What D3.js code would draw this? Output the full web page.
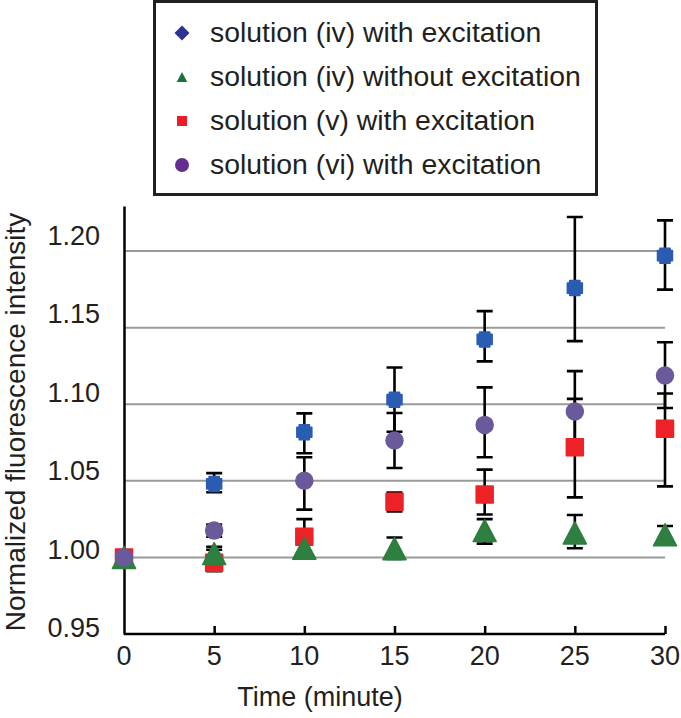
<!DOCTYPE html>
<html>
<head>
<meta charset="utf-8">
<script src="https://cdn.jsdelivr.net/npm/d3@7"></script>
<style>
  html, body { margin: 0; padding: 0; background: #fff; }
  svg { display: block; }
  text { font-family: "Liberation Sans", Arial, Helvetica, sans-serif; fill: #231f20; }
</style>
</head>
<body>
<svg id="chart" width="681" height="718"></svg>
<script>
// ---- data ----
const times = [0, 5, 10, 15, 20, 25, 30];
const seriesNames = [
  "solution (iv) with excitation",
  "solution (iv) without excitation",
  "solution (v) with excitation",
  "solution (vi) with excitation"
];
// solution (iv) with excitation
const ivWith      = [1.000, 1.048, 1.0817, 1.103, 1.1423, 1.1758, 1.197];
const ivWithPlus  = [0, 0.007, 0.0123, 0.021, 0.0185, 0.0464, 0.023];
const ivWithMinus = [0, 0.0055, 0.0137, 0.021, 0.0143, 0.0346, 0.0222];
// solution (iv) without excitation
const ivWithout      = [1.000, 1.0025, 1.006, 1.0057, 1.0175, 1.016, 1.0148];
const ivWithoutPlus  = [0, 0.0045, 0.004, 0.0073, 0.0075, 0.0117, 0.0057];
const ivWithoutMinus = [0, 0.0045, 0.004, 0.0067, 0.0085, 0.010, 0.0058];
// solution (v) with excitation
const vWith      = [1.000, 0.9965, 1.0135, 1.0363, 1.041, 1.0719, 1.084];
const vWithPlus  = [0, 0.0085, 0.0115, 0.006, 0.0163, 0.0316, 0.023];
const vWithMinus = [0, 0.0055, 0.0115, 0.0063, 0.013, 0.0327, 0.0376];
// solution (vi) with excitation
const viWith      = [1.000, 1.0175, 1.050, 1.0763, 1.0865, 1.0952, 1.1188];
const viWithPlus  = [0, 0.004, 0.0154, 0.018, 0.0245, 0.0264, 0.0217];
const viWithMinus = [0, 0.004, 0.0188, 0.0179, 0.0211, 0.026, 0.0213];

const xTicks = [0, 5, 10, 15, 20, 25, 30];
const yTicks = [0.95, 1.00, 1.05, 1.10, 1.15, 1.20];
const gridValues = [1.00, 1.05, 1.10, 1.15, 1.20];
const xTitle = "Time (minute)";
const yTitle = "Normalized fluorescence intensity";

// ---- layout ----
const svg = d3.select("#chart");
const x = d3.scaleLinear().domain([0, 30]).range([124, 665]);
const y = d3.scaleLinear().domain([0.95, 1.2294]).range([634, 206]);
const yLabel = d3.scaleLinear().domain([0.95, 1.20]).range([637, 245]);

// gridlines
svg.append("g").selectAll("line").data(gridValues).join("line")
  .attr("x1", x(0)).attr("x2", x(30))
  .attr("y1", d => y(d)).attr("y2", d => y(d))
  .attr("stroke", "#9a9a9a").attr("stroke-width", 2);

// axes
const xAxis = d3.axisBottom(x).tickValues(xTicks.slice(1)).tickSize(-8).tickFormat("");
const gx = svg.append("g").attr("transform", `translate(0,${y(0.95)})`).call(xAxis);
gx.select(".domain").attr("stroke", "#000").attr("stroke-width", 2.5).attr("d", `M${x(0)},0H${x(30)}`);
gx.selectAll(".tick line").attr("stroke", "#000").attr("stroke-width", 2.5);

const yAxis = d3.axisLeft(y).tickValues([]).tickSize(0);
const gy = svg.append("g").attr("transform", `translate(${x(0)},0)`).call(yAxis);
gy.select(".domain").attr("stroke", "#000").attr("stroke-width", 2.5);

// tick labels
svg.append("g").selectAll("text").data(xTicks).join("text")
  .attr("x", d => x(d)).attr("y", 665)
  .attr("text-anchor", "middle").attr("font-size", 27)
  .text(d => d);
svg.append("g").selectAll("text").data(yTicks).join("text")
  .attr("x", 100).attr("y", d => yLabel(d))
  .attr("text-anchor", "end").attr("font-size", 27)
  .text(d => d.toFixed(2));

// axis titles
svg.append("text").attr("x", 320).attr("y", 706)
  .attr("text-anchor", "middle").attr("font-size", 27).text(xTitle);
svg.append("text").attr("transform", "translate(25,422) rotate(-90)")
  .attr("text-anchor", "middle").attr("font-size", 28).text(yTitle);

// ---- series ----
const crossBlob = {
  draw(ctx, size) {
    const a = Math.sqrt(size) / 2;   // half extent
    const b = a * 0.68;              // half arm width
    ctx.moveTo(-b, -a); ctx.lineTo(b, -a); ctx.lineTo(b, -b); ctx.lineTo(a, -b);
    ctx.lineTo(a, b); ctx.lineTo(b, b); ctx.lineTo(b, a); ctx.lineTo(-b, a);
    ctx.lineTo(-b, b); ctx.lineTo(-a, b); ctx.lineTo(-a, -b); ctx.lineTo(-b, -b);
    ctx.closePath();
  }
};
const triBox = {
  draw(ctx, size) {
    const h = Math.sqrt(size) / 2;
    ctx.moveTo(0, -h); ctx.lineTo(h * 1.05, h); ctx.lineTo(-h * 1.05, h); ctx.closePath();
  }
};
const squareSym = {
  draw(ctx, size) {
    const h = Math.sqrt(size) / 2;
    ctx.rect(-h, -h, 2 * h, 2 * h);
  }
};
const diamondSym = {
  draw(ctx, size) {
    const h = Math.sqrt(size) / 2;
    ctx.moveTo(0, -h); ctx.lineTo(h, 0); ctx.lineTo(0, h); ctx.lineTo(-h, 0); ctx.closePath();
  }
};

const series = [
  { name: seriesNames[0], vals: ivWith, plus: ivWithPlus, minus: ivWithMinus,
    sym: crossBlob, size: 15 * 15, color: "#2a5cb3", legSym: diamondSym, legSize: 15 * 15, legColor: "#2e3192", order: 0 },
  { name: seriesNames[1], vals: ivWithout, plus: ivWithoutPlus, minus: ivWithoutMinus,
    sym: triBox, size: 22 * 22, color: "#2d7f3f", legSym: triBox, legSize: 10 * 10, legColor: "#1b7139", order: 2 },
  { name: seriesNames[2], vals: vWith, plus: vWithPlus, minus: vWithMinus,
    sym: squareSym, size: 17 * 17, color: "#ec2227", legSym: squareSym, legSize: 10 * 10, legColor: "#ec1c24", order: 1 },
  { name: seriesNames[3], vals: viWith, plus: viWithPlus, minus: viWithMinus,
    sym: d3.symbolCircle, size: Math.PI * 8.5 * 8.5, color: "#6a5a9b", legSym: d3.symbolCircle, legSize: Math.PI * 7 * 7, legColor: "#662d91", order: 3 }
];

const defs = svg.append("defs");
defs.append("filter").attr("id", "soft").attr("x", "-30%").attr("y", "-30%").attr("width", "160%").attr("height", "160%")
  .append("feGaussianBlur").attr("stdDeviation", 0.7);

// error bars first
const eg = svg.append("g").attr("stroke", "#000").attr("stroke-width", 2.6).attr("fill", "none");
series.forEach(s => {
  times.forEach((t, i) => {
    if (s.plus[i] === 0 && s.minus[i] === 0) return;
    const cx = x(t), top = y(s.vals[i] + s.plus[i]), bot = y(s.vals[i] - s.minus[i]);
    eg.append("path").attr("d", `M${cx},${top}V${bot}M${cx - 8},${top}H${cx + 8}M${cx - 8},${bot}H${cx + 8}`);
  });
});

// markers
const mg = svg.append("g").attr("filter", "url(#soft)");
series.slice().sort((a, b) => a.order - b.order).forEach(s => {
  mg.append("g").selectAll("path").data(times.map((t, i) => ({ t, v: s.vals[i] }))).join("path")
    .attr("transform", d => `translate(${x(d.t)},${y(d.v)})`)
    .attr("d", d3.symbol().type(s.sym).size(s.size))
    .attr("fill", s.color)
    .attr("stroke", s.color).attr("stroke-width", 1.5).attr("stroke-linejoin", "round");
});

// ---- legend ----
const lg = svg.append("g");
lg.append("rect").attr("x", 154.5).attr("y", 1.5).attr("width", 442).attr("height", 193)
  .attr("fill", "#fff").attr("stroke", "#231f20").attr("stroke-width", 3);
const legY = d3.scalePoint().domain(seriesNames).range([42, 174]);
series.forEach(s => {
  lg.append("path").attr("transform", `translate(182,${legY(s.name) - 9})`)
    .attr("d", d3.symbol().type(s.legSym).size(s.legSize)).attr("fill", s.legColor);
  lg.append("text").attr("x", 210).attr("y", legY(s.name)).attr("font-size", 28.4).text(s.name);
});
</script>
</body>
</html>
